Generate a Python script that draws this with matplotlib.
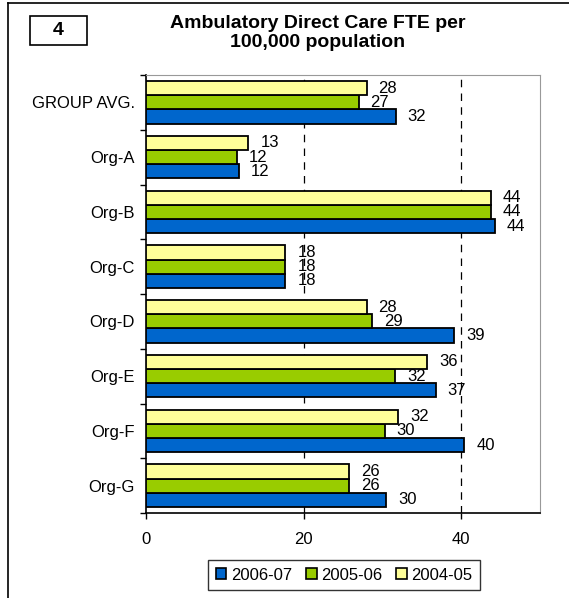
import numpy as np
import matplotlib.pyplot as plt
from matplotlib.patches import Rectangle
from matplotlib.lines import Line2D

plt.rcParams['font.family'] = ['Liberation Sans', 'DejaVu Sans']

# Data
categories = ['GROUP AVG.', 'Org-A', 'Org-B', 'Org-C', 'Org-D', 'Org-E', 'Org-F', 'Org-G']
series_names = ['2006-07', '2005-06', '2004-05']
fte_2006_07 = [31.7, 11.8, 44.3, 17.7, 39.1, 36.8, 40.4, 30.5]
fte_2005_06 = [27.0, 11.5, 43.8, 17.7, 28.7, 31.6, 30.3, 25.8]
fte_2004_05 = [28.0, 13.0, 43.8, 17.7, 28.0, 35.7, 32.0, 25.8]
colors = ['#0066CC', '#99CC00', '#FFFF99']

fig = plt.figure(figsize=(5.69, 5.98), dpi=100)
ax = fig.add_axes([146 / 569, 1 - 513 / 598, 394 / 569, 438 / 598])

y = np.arange(len(categories))
h = 0.26
series = [fte_2006_07, fte_2005_06, fte_2004_05]
offsets = [h, 0, -h]
for vals, off, col, name in zip(series, offsets, colors, series_names):
    bars = ax.barh(y + off, vals, height=h, color=col, edgecolor='black',
                   linewidth=1.3, label=name, zorder=3)
    for b, v in zip(bars, vals):
        ax.text(v + 1.5, b.get_y() + b.get_height() / 2, f'{v:.0f}',
                va='center', ha='left', fontsize=12, zorder=4)

ax.set_ylim(len(categories) - 0.5, -0.5)
ax.set_xlim(0, 50)
ax.set_xticks([0, 20, 40])
ax.set_yticks(y)
ax.set_yticklabels(categories, fontsize=12)
ax.set_yticks(np.arange(-0.5, len(categories)), minor=True)
ax.tick_params(axis='y', which='major', length=0, pad=8)
ax.tick_params(axis='y', which='minor', length=4, width=1)
ax.tick_params(axis='x', labelsize=12, length=4, width=1, pad=10)
for x in [20, 40]:
    ax.axvline(x, color='black', linestyle=(0, (6, 5)), linewidth=0.9, zorder=1)
ax.spines['top'].set_color('#999999')
ax.spines['right'].set_color('#999999')
ax.spines['left'].set_linewidth(1.2)
ax.spines['bottom'].set_linewidth(1.2)

handles = [Rectangle((0, 0), 1, 1, facecolor=c, edgecolor='black', linewidth=1.2)
           for c in colors]
leg = fig.legend(handles, series_names, loc='center', bbox_to_anchor=(344 / 569, 1 - 575 / 598),
                 ncol=3, fontsize=12, frameon=True, fancybox=False, edgecolor='black',
                 handlelength=0.65, handleheight=0.65, handletextpad=0.25, columnspacing=0.85,
                 borderpad=0.45, borderaxespad=0)
leg.get_frame().set_linewidth(1.0)

fig.text(318 / 569, 1 - 33 / 598, 'Ambulatory Direct Care FTE per\n100,000 population',
         ha='center', va='center', fontsize=14, fontweight='bold', linespacing=1.1)
fig.text(58.5 / 569, 1 - 30.5 / 598, '4', ha='center', va='center', fontsize=14, fontweight='bold')
fig.add_artist(Rectangle((30 / 569, 1 - 45 / 598), 57 / 569, 29 / 598, transform=fig.transFigure,
                         facecolor='none', edgecolor='black', linewidth=1.2))

# outer frame (only top and left visible in the crop)
fig.add_artist(Line2D([8 / 569, 8 / 569], [0, 1 - 3 / 598], transform=fig.transFigure,
                      color='black', linewidth=1.2))
fig.add_artist(Line2D([8 / 569, 1], [1 - 3 / 598, 1 - 3 / 598], transform=fig.transFigure,
                      color='black', linewidth=1.2))

fig.savefig('out.png', dpi=100)
